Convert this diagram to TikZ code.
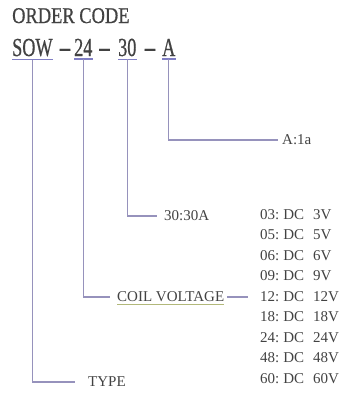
\documentclass[tikz,border=0pt]{standalone}
\usepackage{fontspec}
\setmainfont{Liberation Serif}
\newfontfamily\headfont{Liberation Serif}[FakeStretch=0.82,FakeBold=0.6]
\newfontfamily\codefont{Liberation Serif}[FakeStretch=0.7,FakeBold=0.6]
\newfontfamily\hyphfont{Liberation Serif}[FakeStretch=1.6,FakeBold=0.6]
\usetikzlibrary{positioning}
\definecolor{ink}{RGB}{66,66,66}
\definecolor{wirec}{RGB}{150,146,188}
\definecolor{markc}{RGB}{128,126,196}
\definecolor{ulyel}{RGB}{178,184,122}

\begin{document}
\begin{tikzpicture}[x=1pt,y=-1pt,
  code/.style={anchor=base west,inner xsep=0pt,inner ysep=3pt,font=\codefont\fontsize{26}{26}\selectfont,text=ink},
  hyph/.style={anchor=base,inner xsep=0pt,inner ysep=3pt,font=\hyphfont\fontsize{26}{26}\selectfont,text=ink},
  lbl/.style={anchor=west,inner sep=0pt,font=\fontsize{15}{18}\selectfont,text=ink},
  wire/.style={draw=wirec,line width=1.2pt},
  uline/.style={draw=markc,line width=1.8pt}]
  \useasboundingbox (0,0) rectangle (344,394);
  % heading and code
  \node[anchor=base west,inner sep=0pt,font=\headfont\fontsize{22.5}{22.5}\selectfont,text=ink](title) at (12,23){ORDER CODE};
  \node[code](sow) at (12,56){SOW};
  \node[hyph](d1) at (65,56){-};
  \node[code](c24) at (74,56){24};
  \node[hyph](d2) at (104.5,56){-};
  \node[code](c30) at (118,56){30};
  \node[hyph](d3) at (150,56){-};
  \node[code](ca) at (162,56){A};
  \foreach \n in {sow,c24,c30,ca}
    \draw[uline](\n.south west)--(\n.south east);
  % meanings
  \node[lbl](la) at (282,140){A:1a};
  \node[lbl](l30) at (164,216){30:30A};
  \node[lbl](coil) at (117,297){COIL VOLTAGE};
  \node[lbl](type) at (88,382){TYPE};
  \node[lbl,font=\fontsize{15}{20.5}\selectfont](volt) at (260,297){%
    \begin{tabular}{@{}l@{\hspace{4pt}}l@{\hspace{9pt}}l@{}}
      03: & DC & 3V\\
      05: & DC & 5V\\
      06: & DC & 6V\\
      09: & DC & 9V\\
      12: & DC & 12V\\
      18: & DC & 18V\\
      24: & DC & 24V\\
      48: & DC & 48V\\
      60: & DC & 60V
    \end{tabular}};
  \draw[draw=ulyel,line width=1pt]([yshift=-2.5pt]coil.south west)--([yshift=-2.5pt]coil.south east);
  % leaders
  \draw[wire,shorten >=4pt](ca.south)|-(la.west);
  \draw[wire,shorten >=7pt](c30.south)|-(l30.west);
  \draw[wire,shorten >=7pt](c24.south)|-(coil.west);
  \draw[wire,shorten >=13pt](sow.south)|-(type.west);
  \draw[wire,shorten <=3pt,shorten >=12pt](coil.east)--(coil.east -| volt.west);
\end{tikzpicture}
\end{document}
